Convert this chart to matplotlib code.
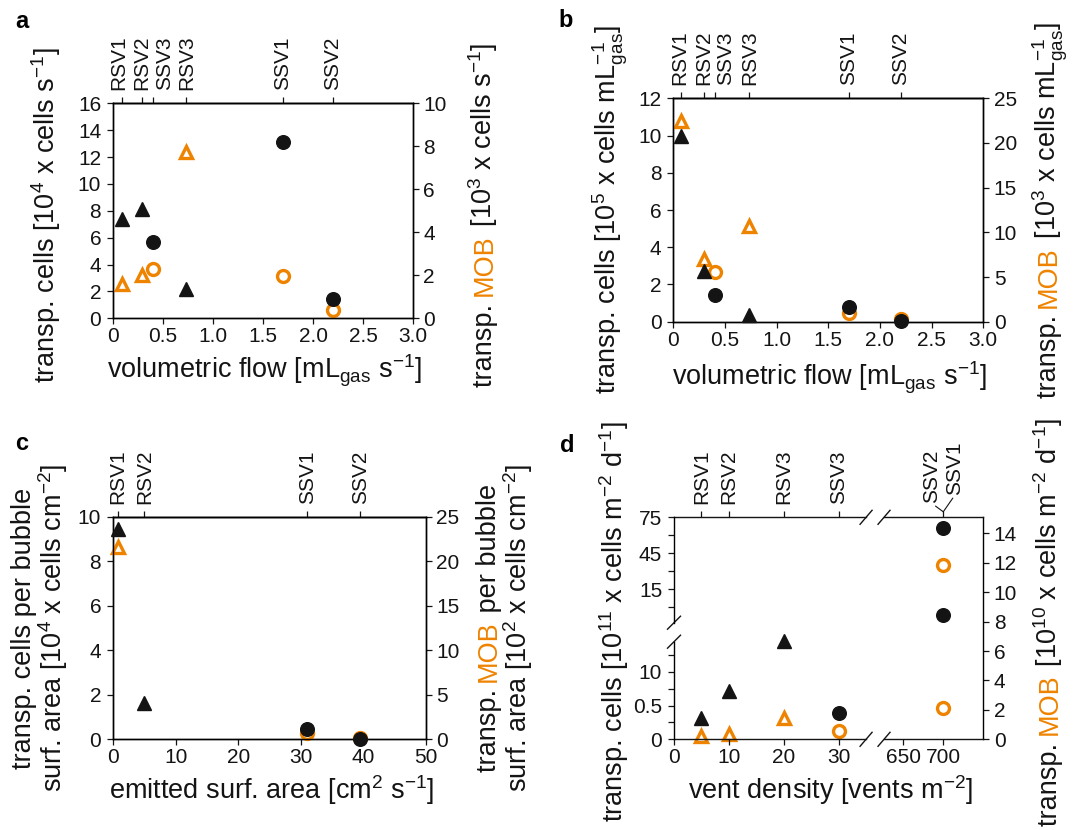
import numpy as np
import matplotlib
matplotlib.use('Agg')
import matplotlib.pyplot as plt
from matplotlib.lines import Line2D
from matplotlib.transforms import ScaledTranslation

plt.rcParams['font.family'] = ['Liberation Sans', 'DejaVu Sans']
plt.rcParams['mathtext.fontset'] = 'custom'
plt.rcParams['mathtext.rm'] = 'Liberation Sans'
plt.rcParams['mathtext.it'] = 'Liberation Sans:italic'
plt.rcParams['mathtext.bf'] = 'Liberation Sans:bold'
plt.rcParams['axes.linewidth'] = 1.0

W, H = 1075, 830
ORANGE = '#EE8300'
BLACK = '#141414'
TICK_FS = 15
NAME_FS = 15
LABEL_FS = 19.5

# ---------------- data ----------------
# a: per second vs volumetric flow
a_rsv_x = [0.087, 0.29, 0.725]
a_ssv_x = [0.40, 1.70, 2.20]
a_rsv_cells = [7.4, 8.1, 2.15]
a_ssv_cells = [5.65, 13.1, 1.4]
a_rsv_mob = [1.6, 2.0, 7.75]
a_ssv_mob = [2.28, 1.95, 0.37]
a_vents = ['RSV1', 'RSV2', 'SSV3', 'RSV3', 'SSV1', 'SSV2']
a_vent_x = [0.087, 0.29, 0.40, 0.725, 1.70, 2.20]

# b: per mL gas vs volumetric flow
b_rsv_x = [0.073, 0.30, 0.73]
b_ssv_x = [0.40, 1.70, 2.20]
b_rsv_cells = [9.96, 2.7, 0.36]
b_ssv_cells = [1.42, 0.8, 0.05]
b_rsv_mob = [22.5, 7.0, 10.7]
b_ssv_mob = [5.6, 0.94, 0.26]
b_vents = ['RSV1', 'RSV2', 'SSV3', 'RSV3', 'SSV1', 'SSV2']
b_vent_x = [0.073, 0.30, 0.40, 0.73, 1.70, 2.20]

# c: per bubble surface area vs emitted surface area
c_rsv_x = [0.8, 5.0]
c_ssv_x = [31.0, 39.5]
c_rsv_cells = [9.43, 1.65]
c_ssv_cells = [0.48, 0.03]
c_rsv_mob_x = [0.8]
c_rsv_mob = [21.6]
c_ssv_mob = [0.75, 0.19]
c_vents = ['RSV1', 'RSV2', 'SSV1', 'SSV2']
c_vent_x = [0.8, 5.0, 31.0, 39.5]

# d: per area and day vs vent density (broken axes)
d_rsv_x = [5, 10, 20]
d_rsv_cells = [3.1, 7.2, 14.6]        # lower part of left axis
d_ssv3_x = [30]
d_ssv3_cells = [3.85]                 # lower part of left axis
d_ssv_hi_x = [700, 700]
d_ssv_hi_cells = [65.8, -6.4]         # upper part of left axis
d_rsv_mob = [0.25, 0.35, 1.46]
d_ssv_x = [30, 700, 700]
d_ssv_mob = [0.56, 11.85, 2.15]
d_vents = ['RSV1', 'RSV2', 'RSV3', 'SSV3']
d_vent_x = [5, 10, 20, 30]
d_vents_700 = ['SSV2', 'SSV1']

# ---------------- helpers ----------------
fig = plt.figure(figsize=(W / 100, H / 100), dpi=100)
renderer = fig.canvas.get_renderer()


def box(l, t, r, b):
    return [l / W, 1 - b / H, (r - l) / W, (b - t) / H]


def ticks(ax):
    ax.tick_params(direction='out', length=4, width=0.9, labelsize=TICK_FS,
                   color=BLACK, labelcolor=BLACK)
    ax.tick_params(axis='x', pad=2.5)
    ax.tick_params(axis='y', pad=4.5)


def black(ax, x, y, m):
    ax.plot(x, y, m, ms=10.5 if m == '^' else 9.8, color=BLACK, ls='none',
            clip_on=False, zorder=3)


def orange(ax, x, y, m):
    ax.plot(x, y, m, ms=9.2 if m == '^' else 8.6, mfc='none', mec=ORANGE,
            mew=2.4, ls='none', clip_on=False, zorder=3)


def measure(s, fs):
    t = fig.text(0, 0, s, fontsize=fs)
    w = t.get_window_extent(renderer).width
    t.remove()
    return w


def vlabel(xb, yc, parts, fs=LABEL_FS):
    full = ''.join(s for s, c in parts)
    y0 = yc + measure(full, fs) / 2
    prefix = ''
    for s, c in parts:
        off = measure(prefix + '|', fs) - measure('|', fs) if prefix else 0
        fig.text(xb / W, 1 - (y0 - off) / H, s, rotation=90, rotation_mode='anchor',
                 ha='left', va='baseline', color=c, fontsize=fs)
        prefix += s


def hlabel(xc, yb, s, fs=LABEL_FS):
    fig.text(xc / W, 1 - yb / H, s, ha='center', va='baseline', fontsize=fs, color=BLACK)


def top_names(ax, xs, names, nudges=None, rise=13):
    nudges = nudges or [0] * len(xs)
    for x, n, dx in zip(xs, names, nudges):
        ax.annotate(n, xy=(x, 1), xycoords=('data', 'axes fraction'), xytext=(dx, rise),
                    textcoords='offset pixels', rotation=90, ha='center', va='bottom',
                    fontsize=NAME_FS, color=BLACK, annotation_clip=False)


def slash(xc, yc, w, h):
    fig.add_artist(Line2D([(xc - w / 2) / W, (xc + w / 2) / W],
                          [1 - (yc + h / 2) / H, 1 - (yc - h / 2) / H],
                          color=BLACK, lw=1.0))


def dual(bx, xlim, ylim, y2lim, xt, xtl, yt, y2t, vent_x, vent_names, nudges=None):
    ax = fig.add_axes(box(*bx))
    ax2 = ax.twinx()
    ax.set_zorder(2)
    ax.patch.set_visible(False)
    ax.set_xlim(*xlim)
    ax.set_ylim(*ylim)
    ax2.set_ylim(*y2lim)
    ax.set_xticks(xt, xtl)
    ax.set_yticks(yt)
    ax2.set_yticks(y2t)
    ticks(ax)
    ticks(ax2)
    ax2.tick_params(axis='y', pad=3.5)
    sec = ax.secondary_xaxis('top')
    sec.set_xticks(vent_x, [''] * len(vent_x))
    sec.tick_params(direction='out', length=4, width=0.9, color=BLACK)
    top_names(ax, vent_x, vent_names, nudges)
    return ax, ax2


flow_ticks = np.arange(0, 3.01, 0.5)
flow_labels = ['0', '0.5', '1.0', '1.5', '2.0', '2.5', '3.0']

# ---------------- panel a ----------------
ax, ax2 = dual((113, 103.3, 413, 318.3), (0, 3), (0, 16), (0, 10),
               flow_ticks, flow_labels, range(0, 17, 2), range(0, 11, 2),
               a_vent_x, a_vents, [-2.5, 0, 11.5, 1, 0, 0])
orange(ax2, a_rsv_x, a_rsv_mob, '^')
orange(ax2, a_ssv_x, a_ssv_mob, 'o')
black(ax, a_rsv_x, a_rsv_cells, '^')
black(ax, a_ssv_x, a_ssv_cells, 'o')
vlabel(55, 215, [('transp. cells [10$^{4}$ x cells s$^{-1}$]', BLACK)])
vlabel(492, 215, [('transp. ', BLACK), ('MOB', ORANGE),
                  (' [10$^{3}$ x cells s$^{-1}$]', BLACK)])
hlabel(265, 378, r'volumetric flow [mL$_{\mathregular{gas}}$ s$^{-1}$]')

# ---------------- panel b ----------------
ax, ax2 = dual((673.3, 98.3, 983.3, 321.7), (0, 3), (0, 12), (0, 25),
               flow_ticks, flow_labels, range(0, 13, 2), range(0, 26, 5),
               b_vent_x, b_vents, [-1, -1, 11, 1, 0, 0])
orange(ax2, b_rsv_x, b_rsv_mob, '^')
orange(ax2, b_ssv_x, b_ssv_mob, 'o')
black(ax, b_rsv_x, b_rsv_cells, '^')
black(ax, b_ssv_x, b_ssv_cells, 'o')
vlabel(617, 210, [(r'transp. cells [10$^{5}$ x cells mL$_{\mathregular{gas}}^{-1}$]', BLACK)])
vlabel(1056, 210, [('transp. ', BLACK), ('MOB', ORANGE),
                   (r' [10$^{3}$ x cells mL$_{\mathregular{gas}}^{-1}$]', BLACK)])
hlabel(830, 386, r'volumetric flow [mL$_{\mathregular{gas}}$ s$^{-1}$]')

# ---------------- panel c ----------------
ax, ax2 = dual((113, 516.7, 426, 739.3), (0, 50), (0, 10), (0, 25),
               range(0, 51, 10), None, range(0, 11, 2), range(0, 26, 5),
               c_vent_x, c_vents)
orange(ax2, c_rsv_mob_x, c_rsv_mob, '^')
orange(ax2, c_ssv_x, c_ssv_mob, 'o')
black(ax, c_rsv_x, c_rsv_cells, '^')
black(ax, c_ssv_x, c_ssv_cells, 'o')
vlabel(31, 628, [('transp. cells per bubble', BLACK)])
vlabel(62, 628, [('surf. area [10$^{4}$ x cells cm$^{-2}$]', BLACK)])
vlabel(496, 628, [('transp. ', BLACK), ('MOB', ORANGE), (' per bubble', BLACK)])
vlabel(527, 628, [('surf. area [10$^{2}$ x cells cm$^{-2}$]', BLACK)])
hlabel(272, 799, 'emitted surf. area [cm$^{2}$ s$^{-1}$]')

# ---------------- panel d ----------------
dl, dt, dr, db = 674, 517.3, 983.3, 739.3
brk_hi, brk_lo = 622.7, 641.7
x_knots = [0, 35, 626, 750]
x_frac = [0, 0.621, 0.679, 1]


def fwd(x):
    return np.interp(x, x_knots, x_frac)


def inv(f):
    return np.interp(f, x_frac, x_knots)


ax_r = fig.add_axes(box(dl, dt, dr, db))
ax_t = fig.add_axes(box(dl, dt, dr, brk_hi))
ax_b = fig.add_axes(box(dl, brk_lo, dr, db))
ax_r.set_zorder(1)
for a in (ax_t, ax_b):
    a.set_zorder(2)
    a.patch.set_visible(False)
for a in (ax_r, ax_t, ax_b):
    a.set_xscale('function', functions=(fwd, inv))
    a.set_xlim(0, 750)
    ticks(a)
    for s in a.spines.values():
        s.set_visible(False)

ax_r.set_ylim(0, 15.09)
ax_r.xaxis.set_visible(False)
ax_r.yaxis.tick_right()
ax_r.spines['right'].set_visible(True)
ax_r.set_yticks(range(0, 15, 2))
ax_r.tick_params(axis='y', pad=3.5)

ax_t.set_ylim(-12.8, 75)
ax_t.spines['left'].set_visible(True)
ax_t.set_yticks([15, 45, 75])
ax_t.set_yticks([0, 30, 60], minor=True)
ax_t.tick_params(which='minor', direction='out', length=4, width=0.9, color=BLACK)
ax_t.xaxis.tick_top()
ax_t.set_xticks([5, 10, 20, 30, 700], [''] * 5)
ax_t.tick_params(axis='x', which='minor', top=False)

ax_b.set_ylim(0, 14.44)
ax_b.spines['left'].set_visible(True)
ax_b.set_yticks([0, 5, 10], ['0', '0.5', '10'])
ax_b.set_yticks([2.5, 7.5, 12.5], minor=True)
ax_b.tick_params(which='minor', direction='out', length=4, width=0.9, color=BLACK)
ax_b.set_xticks([0, 10, 20, 30, 650, 700])
ax_b.tick_params(axis='x', which='minor', bottom=False)

# top / bottom frame lines with the x break
for a, yy in ((ax_t, 1), (ax_b, 0)):
    for x0, x1 in ((0, x_frac[1]), (x_frac[2], 1)):
        a.add_line(Line2D([x0, x1], [yy, yy], transform=a.transAxes, color=BLACK,
                          lw=1.0, clip_on=False))
for f in (x_frac[1], x_frac[2]):
    xc = dl + f * (dr - dl)
    slash(xc, dt, 12, 14)
    slash(xc, db, 12, 14)
slash(dl, brk_hi, 13, 13)
slash(dl, brk_lo, 13, 13)

orange(ax_r, d_rsv_x, d_rsv_mob, '^')
orange(ax_r, d_ssv_x, d_ssv_mob, 'o')
black(ax_b, d_rsv_x, d_rsv_cells, '^')
black(ax_b, d_ssv3_x, d_ssv3_cells, 'o')
black(ax_t, d_ssv_hi_x, d_ssv_hi_cells, 'o')

top_names(ax_t, d_vent_x, d_vents)
tick_top = ax_t.get_xaxis_transform() + ScaledTranslation(0, 5.5 / 100, fig.dpi_scale_trans)
for n, dx, rise in zip(d_vents_700, [-11.5, 11.5], [8.5, 16.5]):
    ax_t.annotate(n, xy=(700, 1), xycoords=tick_top, xytext=(dx, rise),
                  textcoords='offset pixels', rotation=90, ha='center', va='bottom',
                  fontsize=NAME_FS, color=BLACK, annotation_clip=False,
                  arrowprops=dict(arrowstyle='-', lw=0.8, color=BLACK, relpos=(0.5, 0),
                                  shrinkA=0, shrinkB=0))

vlabel(623, 622, [('transp. cells [10$^{11}$ x cells m$^{-2}$ d$^{-1}$]', BLACK)])
vlabel(1057, 622, [('transp. ', BLACK), ('MOB', ORANGE),
                   (' [10$^{10}$ x cells m$^{-2}$ d$^{-1}$]', BLACK)])
hlabel(830, 799, 'vent density [vents m$^{-2}$]')

# ---------------- panel letters ----------------
for s, x, y in (('a', 15, 28), ('b', 558, 27), ('c', 15, 450), ('d', 560, 452)):
    fig.text(x / W, 1 - y / H, s, fontsize=17, fontweight='bold', ha='left', va='baseline')

fig.savefig('out.png', dpi=100)
